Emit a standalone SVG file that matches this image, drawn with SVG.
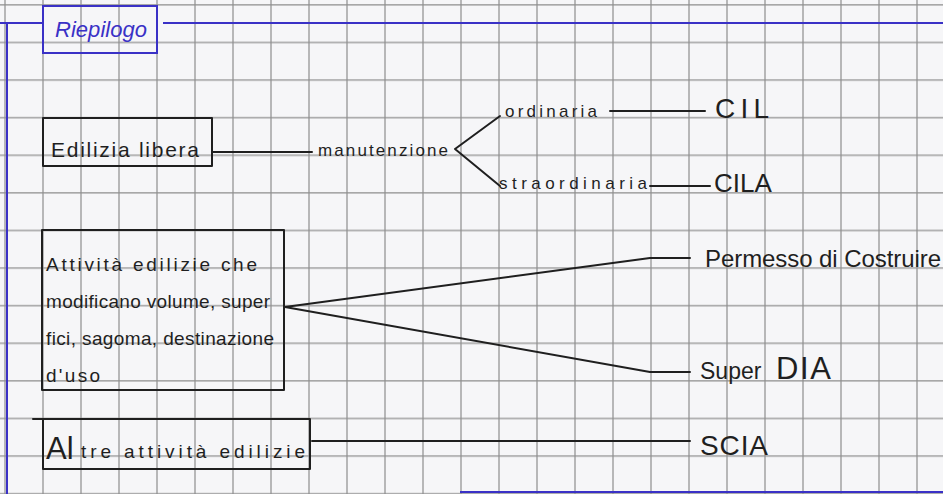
<svg xmlns="http://www.w3.org/2000/svg" width="943" height="494" viewBox="0 0 943 494">
  <defs>
    <!-- squared paper: 38 x 37.6 cells -->
    <pattern id="grid" x="4" y="4" width="38" height="37.6" patternUnits="userSpaceOnUse">
      <path d="M1 0V37.6M0 0.9H38" fill="none" stroke="#8e8e8e" stroke-width="1.2"/>
    </pattern>
    <style>
      .ink { fill: none; stroke: #1f1f1f; stroke-width: 2; stroke-linecap: round; stroke-linejoin: round; }
      .blue { fill: none; stroke: #3a31c6; stroke-width: 2; }
      .txt { font-family: "Liberation Sans", "DejaVu Sans", sans-serif; fill: #1f1f1f; }
      .small { font-size: 17px; }
      .mid { font-size: 19px; }
      .big { font-size: 28px; }
      .title { font-family: "Liberation Sans", sans-serif; font-style: italic; font-size: 22px; fill: #3a31c6; }
    </style>
  </defs>

  <!-- paper -->
  <rect width="943" height="494" fill="#f6f6f8"/>
  <rect width="943" height="494" fill="url(#grid)"/>

  <!-- header and margins -->
  <g id="header">
    <path class="blue" d="M0 23H43M163 23H943M7 23V494M460 492H943"/>
    <rect class="blue" x="43" y="6" width="114" height="47"/>
    <text class="title" x="55" y="37" textLength="92" lengthAdjust="spacing">Riepilogo</text>
  </g>

  <!-- connectors -->
  <g id="connectors" class="ink">
    <path d="M212 152H312"/>
    <path d="M455 149L500 116M455 149L500 186"/>
    <path d="M610 111H705"/>
    <path d="M650 186H710"/>
    <path d="M285 307L650 258H690"/>
    <path d="M285 307L650 372H690"/>
    <path d="M312 441H690"/>
  </g>

  <g id="edilizia-libera">
    <rect class="ink" x="43" y="118" width="169" height="48"/>
    <text class="txt" x="51" y="157" font-size="21" textLength="148" lengthAdjust="spacing">Edilizia libera</text>
  </g>

  <g id="manutenzione">
    <text class="txt small" x="318" y="156" textLength="130" lengthAdjust="spacing">manutenzione</text>
  </g>

  <g id="ordinaria">
    <text class="txt small" x="505" y="117" textLength="92" lengthAdjust="spacing">ordinaria</text>
  </g>

  <g id="straordinaria">
    <text class="txt small" x="499" y="189" textLength="148" lengthAdjust="spacing">straordinaria</text>
  </g>

  <g id="cil">
    <text class="txt big" x="715" y="118" textLength="54" lengthAdjust="spacing">CIL</text>
  </g>

  <g id="cila">
    <text class="txt" x="714" y="192" font-size="26">CILA</text>
  </g>

  <g id="attivita-volume">
    <rect class="ink" x="42" y="230" width="242" height="160"/>
    <text class="txt mid" x="46" y="271" textLength="211" lengthAdjust="spacing">Attività edilizie che</text>
    <text class="txt mid" x="46" y="308" textLength="224" lengthAdjust="spacing">modificano volume, super</text>
    <text class="txt mid" x="46" y="345" textLength="228" lengthAdjust="spacing">fici, sagoma, destinazione</text>
    <text class="txt mid" x="46" y="382" textLength="54" lengthAdjust="spacing">d'uso</text>
  </g>

  <g id="permesso">
    <text class="txt" x="705" y="267" font-size="24" textLength="236" lengthAdjust="spacing">Permesso di Costruire</text>
  </g>

  <g id="super-dia">
    <text class="txt" x="700" y="379" font-size="23">Super</text>
    <text class="txt" x="776" y="379" font-size="31" textLength="55" lengthAdjust="spacing">DIA</text>
  </g>

  <g id="altre-attivita">
    <path class="ink" d="M33 419H310V469H43V419"/>
    <text class="txt" x="46" y="459" font-size="31">Al</text>
    <text class="txt mid" x="81" y="458" textLength="224" lengthAdjust="spacing">tre attività edilizie</text>
  </g>

  <g id="scia">
    <text class="txt big" x="700" y="455" textLength="68" lengthAdjust="spacing">SCIA</text>
  </g>
</svg>
